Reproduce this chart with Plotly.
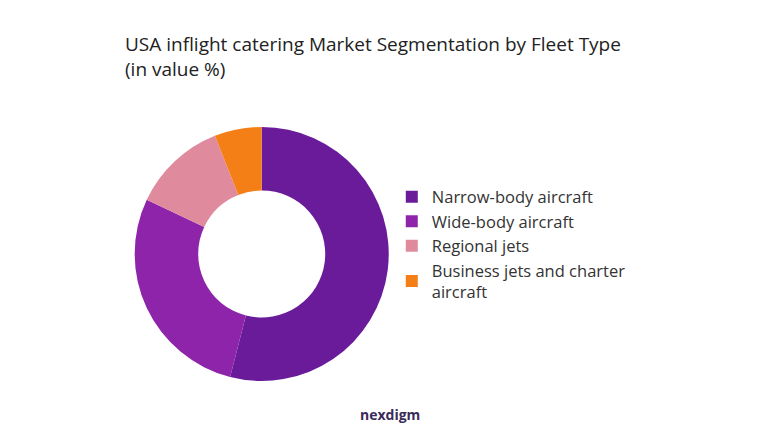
import plotly.graph_objects as go

segments = ['Narrow-body aircraft', 'Wide-body aircraft', 'Regional jets',
            'Business jets and charter<br>aircraft']
shares = [54, 28, 12, 6]
colors = ['#6A1B9A', '#8E24AA', '#E08A9E', '#F57F17']

fig = go.Figure(go.Pie(
    labels=segments, values=shares, hole=0.5, sort=False, direction='clockwise',
    marker=dict(colors=colors), textinfo='none',
    domain=dict(x=[0.166, 0.499], y=[0.152, 0.730]),
))

fig.update_layout(
    width=763, height=440, margin=dict(l=0, r=0, t=0, b=0),
    paper_bgcolor='white', font=dict(family='Open Sans', color='#222'),
    title=dict(text='USA inflight catering Market Segmentation by Fleet Type<br>(in value %)',
               x=117/763, xanchor='left', y=1-43/440, yanchor='top',
               font=dict(size=19, color='#222')),
    legend=dict(x=0.503, y=0.61, yanchor='top', font=dict(size=16.5, color='#333'),
                tracegroupgap=0),
    annotations=[dict(text='<b>nexdigm</b>', x=0.5, y=1-418/440, xref='paper', yref='paper',
                      showarrow=False, font=dict(size=14, color='#3a2a5a'))],
)

fig.write_html("out.html")
